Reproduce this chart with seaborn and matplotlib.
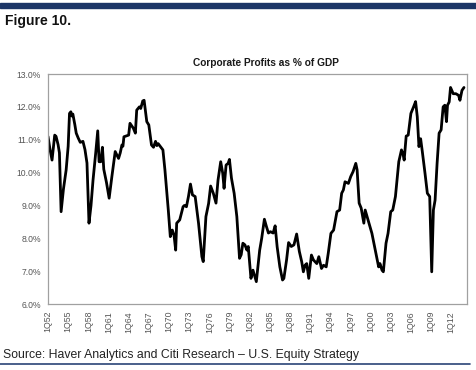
import matplotlib
matplotlib.use("Agg")
import matplotlib.pyplot as plt
import seaborn as sns
import pandas as pd

# traced points: decimal year -> corporate profits as % of GDP
years = [
    1952.0, 1952.3, 1952.6, 1953.0, 1953.2, 1953.5, 1953.7, 1953.95, 1954.3, 1954.7,
    1955.0, 1955.2, 1955.4, 1955.55, 1955.7, 1956.0, 1956.2, 1956.5, 1956.8, 1957.2,
    1957.5, 1957.8, 1958.1, 1958.4, 1958.7, 1959.1, 1959.4, 1959.6, 1959.85, 1960.1,
    1960.3, 1960.7, 1961.1, 1961.5, 1962.0, 1962.5, 1962.75, 1963.0, 1963.15, 1963.3,
    1964.0, 1964.2, 1964.7, 1965.0, 1965.2, 1965.6, 1965.8, 1966.1, 1966.3, 1966.7,
    1967.0, 1967.4, 1967.7, 1968.0, 1968.2, 1968.4, 1968.7, 1969.1, 1969.4, 1969.9,
    1970.2, 1970.5, 1970.75, 1971.0, 1971.15, 1971.6, 1972.1, 1972.3, 1972.6, 1972.9,
    1973.2, 1973.5, 1973.9, 1974.4, 1974.9, 1975.1, 1975.5, 1975.9, 1976.2, 1976.6,
    1977.0, 1977.3, 1977.7, 1978.0, 1978.2, 1978.5, 1978.8, 1979.0, 1979.3, 1979.7,
    1980.1, 1980.5, 1980.75, 1981.0, 1981.3, 1981.6, 1981.8, 1982.2, 1982.5, 1983.0,
    1983.5, 1983.8, 1984.2, 1984.5, 1984.8, 1985.1, 1985.5, 1985.8, 1986.1, 1986.5,
    1986.9, 1987.1, 1987.5, 1987.8, 1988.2, 1988.6, 1989.0, 1989.4, 1989.75, 1990.0,
    1990.25, 1990.5, 1990.8, 1991.2, 1991.5, 1992.0, 1992.3, 1992.7, 1993.0, 1993.4,
    1993.7, 1994.1, 1994.5, 1995.0, 1995.4, 1995.7, 1995.95, 1996.2, 1996.7, 1997.05,
    1997.4, 1997.8, 1998.0, 1998.3, 1998.6, 1999.0, 1999.2, 1999.7, 2000.2, 2000.7,
    2001.2, 2001.4, 2001.7, 2001.9, 2002.3, 2002.6, 2003.0, 2003.3, 2003.7, 2004.2,
    2004.6, 2004.85, 2005.0, 2005.3, 2005.6, 2006.0, 2006.4, 2006.7, 2006.95, 2007.2,
    2007.45, 2007.7, 2008.1, 2008.45, 2008.8, 2009.1, 2009.35, 2009.6, 2009.9, 2010.2,
    2010.5, 2010.8, 2011.05, 2011.3, 2011.45, 2011.7, 2011.9, 2012.3, 2012.7, 2013.1,
    2013.3, 2013.6, 2013.9,
]
profits = [
    11.1, 10.7, 10.38, 11.14, 11.1, 10.85, 10.6, 8.81, 9.5, 10.08,
    10.8, 11.8, 11.85, 11.72, 11.78, 11.45, 11.2, 11.05, 10.92, 10.95,
    10.7, 10.29, 8.46, 9.0, 9.77, 10.6, 11.27, 10.33, 10.33, 10.77,
    10.1, 9.7, 9.22, 9.87, 10.64, 10.43, 10.6, 10.84, 10.8, 11.09,
    11.14, 11.5, 11.35, 11.2, 11.9, 12.0, 11.95, 12.18, 12.2, 11.55,
    11.45, 10.84, 10.77, 10.95, 10.82, 10.88, 10.8, 10.69, 10.08, 8.86,
    8.05, 8.25, 8.1, 7.64, 8.46, 8.56, 8.96, 9.0, 8.96, 9.27,
    9.65, 9.32, 9.27, 8.46, 7.44, 7.29, 8.66, 9.06, 9.59, 9.37,
    9.07, 9.77, 10.33, 9.98, 9.52, 10.23, 10.28, 10.4, 9.83, 9.37,
    8.66, 7.39, 7.5, 7.85, 7.8, 7.64, 7.75, 6.78, 7.03, 6.68,
    7.64, 8.0, 8.58, 8.36, 8.16, 8.2, 8.16, 8.38, 7.74, 7.13,
    6.73, 6.78, 7.34, 7.87, 7.75, 7.8, 8.13, 7.6, 7.29, 6.98,
    7.18, 7.23, 6.78, 7.49, 7.34, 7.23, 7.44, 7.08, 7.18, 7.13,
    7.54, 8.15, 8.25, 8.81, 8.86, 9.37, 9.47, 9.72, 9.67, 9.88,
    10.03, 10.28, 10.08, 9.07, 8.92, 8.46, 8.86, 8.51, 8.15, 7.64,
    7.13, 7.23, 7.03, 6.98, 7.85, 8.15, 8.81, 8.86, 9.27, 10.33,
    10.69, 10.54, 10.38, 11.11, 11.14, 11.8, 12.0, 12.16, 11.7, 10.79,
    11.03, 10.64, 9.98, 9.37, 9.27, 6.98, 8.86, 9.16, 10.28, 11.2,
    11.3, 12.0, 12.05, 11.55, 12.05, 12.15, 12.59, 12.4, 12.4, 12.35,
    12.2, 12.5, 12.59,
]
tick_years = list(range(1952, 2013, 3))
tick_labels = ["1Q%02d" % (y % 100) for y in tick_years]
y_ticks = [6, 7, 8, 9, 10, 11, 12, 13]

df = pd.DataFrame({"year": years, "profit": profits})

sns.set_style("white")
plt.rcParams["font.family"] = ["Liberation Sans", "DejaVu Sans"]

fig = plt.figure(figsize=(4.76, 3.70), dpi=100)
ax = fig.add_axes([48 / 476, 1 - 304 / 370, (467 - 48) / 476, (304 - 74) / 370])

sns.lineplot(data=df, x="year", y="profit", ax=ax, color="black", linewidth=2.0)

ax.set_xlim(1952, 2014.35)
ax.set_ylim(6, 13)
ax.set_xticks(tick_years)
ax.set_xticklabels(tick_labels, rotation=90, fontsize=6.3, color="#555555")
ax.set_yticks(y_ticks)
ax.set_yticklabels(["%.1f%%" % v for v in y_ticks], fontsize=6.2, color="#555555")
ax.tick_params(axis="both", direction="out", length=3, width=0.6, color="#888888", pad=2)
ax.set_xlabel("")
ax.set_ylabel("")
for s in ax.spines.values():
    s.set_color("#a0a0a0")
    s.set_linewidth(0.9)

ax.set_title("Corporate Profits as % of GDP", fontsize=7.3, fontweight="bold",
             color="#1a1a1a", x=0.52, pad=6)

# header / footer decoration
fig.patches.append(plt.Rectangle((0, 1 - 7.5 / 370), 1, 5 / 370, transform=fig.transFigure,
                                 color="#1c3566", zorder=5))
fig.text(5 / 476, 1 - 20.5 / 370, "Figure 10.", fontsize=10, fontweight="bold",
         va="center", ha="left", color="#111111")
fig.text(3 / 476, 1 - 355 / 370, "Source: Haver Analytics and Citi Research \u2013 U.S. Equity Strategy",
         fontsize=8.8, va="center", ha="left", color="#222222")
fig.lines.append(plt.Line2D([0, 470 / 476], [1 - 363.5 / 370] * 2, transform=fig.transFigure,
                            color="#2a4477", linewidth=1.2))

fig.savefig("out.png", dpi=100)
